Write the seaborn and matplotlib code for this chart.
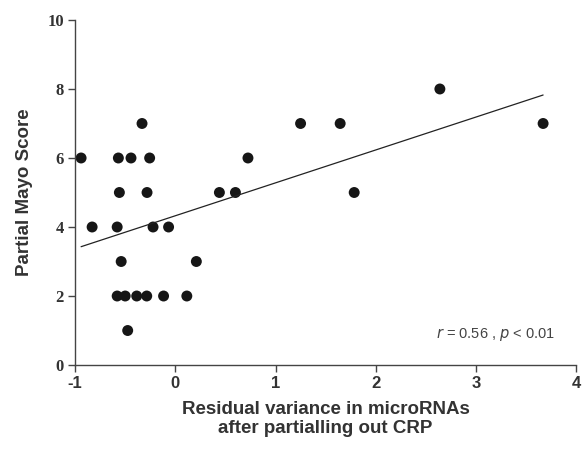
import numpy as np
import pandas as pd
import matplotlib
matplotlib.use("Agg")
import matplotlib.pyplot as plt
import seaborn as sns

# residual variance in microRNAs (x) and partial Mayo score (y)
residual = [-0.94, -0.568, -0.442, -0.256, 0.725,
            -0.332, 1.25, 1.645, 3.67,
            -0.558, -0.282, 0.44, 0.60, 1.785,
            -0.83, -0.58, -0.222, -0.067,
            -0.54, 0.21,
            -0.58, -0.50, -0.385, -0.285, -0.117, 0.115,
            -0.475,
            2.64]
mayo = [6, 6, 6, 6, 6,
        7, 7, 7, 7,
        5, 5, 5, 5, 5,
        4, 4, 4, 4,
        3, 3,
        2, 2, 2, 2, 2, 2,
        1,
        8]

x_ticks = [-1, 0, 1, 2, 3, 4]
y_ticks = [0, 2, 4, 6, 8, 10]

df = pd.DataFrame({"residual": residual, "mayo": mayo})

sns.set_style("ticks")
fig = plt.figure(figsize=(5.82, 4.54), dpi=100)
ax = fig.add_axes([0.129, 0.196, 0.861, 0.76])

sns.regplot(data=df, x="residual", y="mayo", ax=ax, ci=None, truncate=True,
            scatter_kws=dict(s=62, color="#161616", edgecolor="none", alpha=1),
            line_kws=dict(color="#222222", lw=0.9))

ax.set_xlim(-1, 4)
ax.set_ylim(0, 10)
ax.set_xticks(x_ticks)
ax.set_yticks(y_ticks)
ax.set_xticklabels([str(t) for t in x_ticks], fontsize=12, fontweight="bold",
                   family="Liberation Sans", color="#333333")
ax.set_yticklabels([str(t) for t in y_ticks], fontsize=12, fontweight="bold",
                   family="Liberation Serif", color="#333333")
ax.tick_params(direction="out", length=5, width=1, color="#444444", pad=3)
sns.despine(ax=ax)
for s in ["left", "bottom"]:
    ax.spines[s].set_color("#444444")
    ax.spines[s].set_linewidth(1)

ax.set_xlabel("Residual variance in microRNAs\nafter partialling out CRP", fontsize=13.5,
              fontweight="bold", family="Liberation Sans", color="#333333",
              linespacing=1.15, labelpad=7)
ax.set_ylabel("Partial Mayo Score", fontsize=13.5, fontweight="bold",
              family="Liberation Sans", color="#333333", labelpad=10)

ax.text(0.958, 0.087, r"$r$ = 0.56 , $p$ < 0.01", transform=ax.transAxes,
        ha="right", va="center", fontsize=10.5, color="#444444", family="Liberation Sans")

fig.savefig("out.png", dpi=100)
